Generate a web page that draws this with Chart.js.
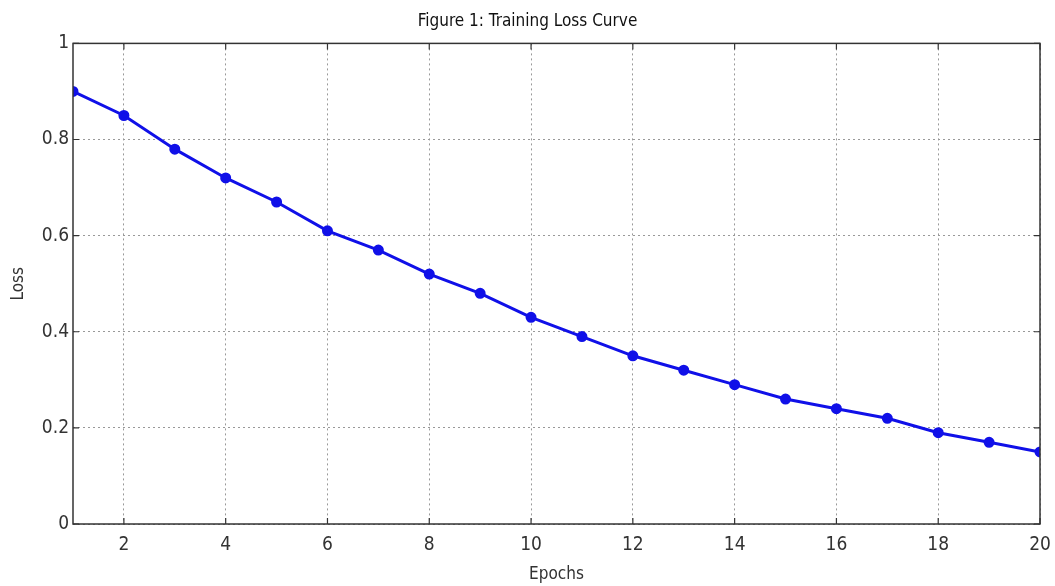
<!DOCTYPE html>
<html>
<head>
<meta charset="utf-8">
<title>Training Loss Curve</title>
<script src="https://cdn.jsdelivr.net/npm/chart.js@4"></script>
<style>
  html, body { margin: 0; padding: 0; background: #fff; }
  #wrap { width: 1055px; height: 586px; }
</style>
</head>
<body>
<div id="wrap"><canvas id="lossChart" width="1055" height="586"></canvas></div>
<script>
// Data
const epochs = [1, 2, 3, 4, 5, 6, 7, 8, 9, 10, 11, 12, 13, 14, 15, 16, 17, 18, 19, 20];
const loss = [0.90, 0.85, 0.78, 0.72, 0.67, 0.61, 0.57, 0.52, 0.48, 0.43,
              0.39, 0.35, 0.32, 0.29, 0.26, 0.24, 0.22, 0.19, 0.17, 0.15];
const xTicks = [2, 4, 6, 8, 10, 12, 14, 16, 18, 20];
const yTicks = [0, 0.2, 0.4, 0.6, 0.8, 1];

const FONT = '"DejaVu Sans Condensed", "Liberation Sans Narrow", sans-serif';

// MATLAB-style box around the axes with inward tick marks
const axesBox = {
  id: 'axesBox',
  afterDraw(chart) {
    const { ctx, chartArea: a, scales } = chart;
    ctx.save();
    ctx.strokeStyle = '#333';
    ctx.lineWidth = 1.5;
    ctx.strokeRect(a.left, a.top, a.right - a.left, a.bottom - a.top);
    ctx.lineWidth = 1.2;
    ctx.beginPath();
    xTicks.forEach(v => {
      const x = scales.x.getPixelForValue(v);
      ctx.moveTo(x, a.bottom); ctx.lineTo(x, a.bottom - 6);
      ctx.moveTo(x, a.top); ctx.lineTo(x, a.top + 6);
    });
    yTicks.forEach(v => {
      const y = scales.y.getPixelForValue(v);
      ctx.moveTo(a.left, y); ctx.lineTo(a.left + 6, y);
      ctx.moveTo(a.right, y); ctx.lineTo(a.right - 6, y);
    });
    ctx.stroke();
    ctx.restore();
  }
};

const ctx = document.getElementById('lossChart').getContext('2d');
new Chart(ctx, {
  type: 'line',
  data: {
    datasets: [{
      label: 'Loss',
      data: epochs.map((e, i) => ({ x: e, y: loss[i] })),
      borderColor: '#1010e8',
      backgroundColor: '#1010e8',
      borderWidth: 3,
      pointRadius: 4,
      pointHoverRadius: 4,
      tension: 0,
      fill: false
    }]
  },
  options: {
    responsive: false,
    animation: false,
    layout: { padding: { left: 0, right: 0, top: 0, bottom: 0 } },
    plugins: {
      legend: { display: false },
      tooltip: { enabled: false },
      title: {
        display: true,
        text: 'Figure 1: Training Loss Curve',
        color: '#111',
        font: { family: FONT, size: 17, weight: 'normal' },
        padding: { top: 11, bottom: 12 }
      }
    },
    scales: {
      x: {
        type: 'linear',
        min: 1,
        max: 20,
        afterBuildTicks: (scale) => { scale.ticks = xTicks.map(v => ({ value: v })); },
        afterFit: (scale) => { scale.height = 62; scale.paddingRight = 15; },
        ticks: {
          color: '#333',
          padding: 10,
          maxRotation: 0,
          autoSkip: false,
          font: { family: FONT, size: 19 }
        },
        grid: {
          color: '#999',
          lineWidth: 1,
          drawTicks: false
        },
        border: { display: false, dash: [2, 3] },
        title: {
          display: true,
          text: 'Epochs',
          color: '#333',
          font: { family: FONT, size: 17 },
          padding: { top: 0, bottom: 1 }
        }
      },
      y: {
        min: 0,
        max: 1,
        afterBuildTicks: (scale) => { scale.ticks = yTicks.map(v => ({ value: v })); },
        afterFit: (scale) => { scale.width = 73; },
        ticks: {
          color: '#333',
          padding: 4,
          autoSkip: false,
          font: { family: FONT, size: 19 },
          callback: (v) => String(v)
        },
        grid: {
          color: '#999',
          lineWidth: 1,
          drawTicks: false
        },
        border: { display: false, dash: [2, 3] },
        title: {
          display: true,
          text: 'Loss',
          color: '#333',
          font: { family: FONT, size: 17 },
          padding: { top: 8, bottom: 0 }
        }
      }
    }
  },
  plugins: [axesBox]
});
</script>
</body>
</html>
